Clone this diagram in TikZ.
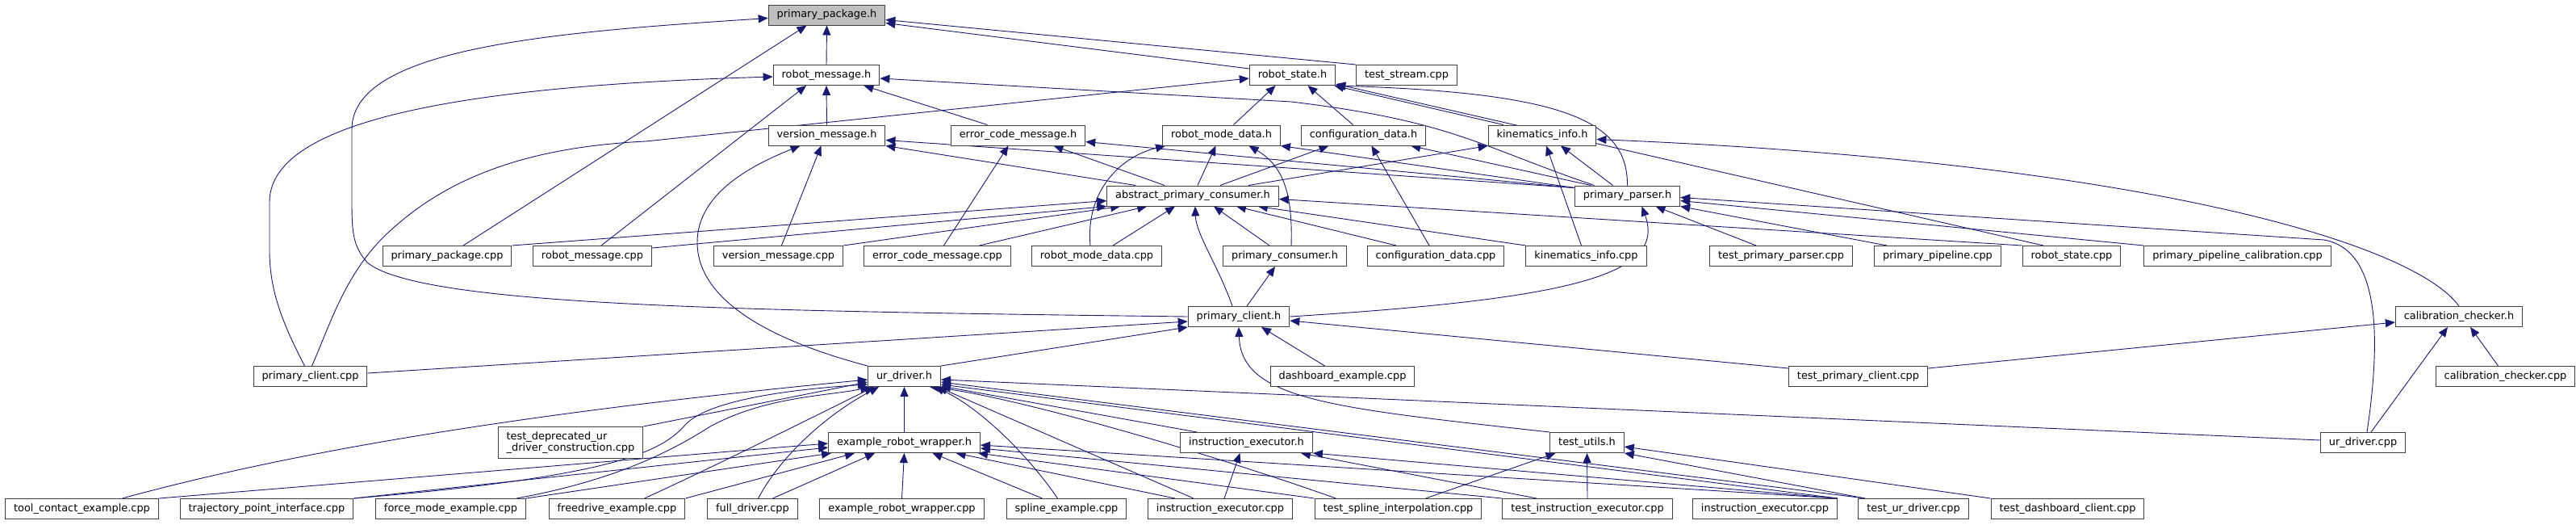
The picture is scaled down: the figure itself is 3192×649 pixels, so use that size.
\documentclass[tikz,border=0pt]{standalone}
\usepackage{fontspec}
\newfontfamily\dejavu{DejaVu Sans}
\usetikzlibrary{arrows.meta, backgrounds}
\definecolor{incblue}{RGB}{25,25,112}
\definecolor{boxline}{RGB}{64,64,64}
\tikzset{%
	filenode/.style={draw=boxline, line width=1pt, rectangle, fill=white, minimum height=25pt,%
		inner xsep=10.5pt, inner ysep=0pt, font=\dejavu\fontsize{12.9pt}{14.5pt}\selectfont},
	rootnode/.style={filenode, fill=black!25},
	connector/.style={draw=incblue, line width=0.9pt, -{Triangle[length=12pt,width=10pt]}}
}

\begin{document}
\begin{tikzpicture}[x=1pt, y=-1pt]
	\useasboundingbox (0,0) rectangle (3192,649);

	\node[rootnode] (pkgh)          at (1024.5,18.5) {primary\_package.h};

	\node[filenode] (msgh)          at (1024,93)     {robot\_message.h};
	\node[filenode] (stateh)        at (1601.5,93)   {robot\_state.h};
	\node[filenode] (streamcpp)     at (1743,93)     {test\_stream.cpp};

	\node[filenode] (versionh)      at (1024.5,167.5) {version\_message.h};
	\node[filenode] (errorh)        at (1261.5,167.5) {error\_code\_message.h};
	\node[filenode] (modeh)         at (1513.5,167.5) {robot\_mode\_data.h};
	\node[filenode] (configh)       at (1689.5,167.5) {configuration\_data.h};
	\node[filenode] (kinh)          at (1911,167.5)   {kinematics\_info.h};

	\node[filenode] (abstracth)     at (1478,242.5)   {abstract\_primary\_consumer.h};
	\node[filenode] (parserh)       at (2016.5,242.5) {primary\_parser.h};

	\node[filenode] (pkgcpp)        at (554,317)    {primary\_package.cpp};
	\node[filenode] (msgcpp)        at (734,317)    {robot\_message.cpp};
	\node[filenode] (versioncpp)    at (964.5,317)  {version\_message.cpp};
	\node[filenode] (errorcpp)      at (1161.5,317) {error\_code\_message.cpp};
	\node[filenode] (modecpp)       at (1359,317)   {robot\_mode\_data.cpp};
	\node[filenode] (consumerh)     at (1592,317)   {primary\_consumer.h};
	\node[filenode] (configcpp)     at (1779,317)   {configuration\_data.cpp};
	\node[filenode] (kincpp)        at (1965.5,317) {kinematics\_info.cpp};
	\node[filenode] (testparsercpp) at (2207,317)   {test\_primary\_parser.cpp};
	\node[filenode] (pipelinecpp)   at (2401,317)   {primary\_pipeline.cpp};
	\node[filenode] (statecpp)      at (2567,317)   {robot\_state.cpp};
	\node[filenode] (calibpipecpp)  at (2772.5,317) {primary\_pipeline\_calibration.cpp};

	\node[filenode] (clienth)       at (1535,392)   {primary\_client.h};
	\node[filenode] (calibh)        at (3047,392)   {calibration\_checker.h};

	\node[filenode] (clientcpp)     at (384.5,466)  {primary\_client.cpp};
	\node[filenode] (urdriverh)     at (1120.5,466) {ur\_driver.h};
	\node[filenode] (dashcpp)       at (1663.5,466) {dashboard\_example.cpp};
	\node[filenode] (testclientcpp) at (2302.5,466) {test\_primary\_client.cpp};
	\node[filenode] (calibcpp)      at (3104.5,466) {calibration\_checker.cpp};

	\node[filenode, align=left, minimum height=39pt] (deprecatedcpp) at (707,548)
		{test\_deprecated\_ur\\\_driver\_construction.cpp};
	\node[filenode] (wrapperh)      at (1120.5,548) {example\_robot\_wrapper.h};
	\node[filenode] (instrh)        at (1544.5,548) {instruction\_executor.h};
	\node[filenode] (testutilsh)    at (1966.5,548) {test\_utils.h};
	\node[filenode] (urdrivercpp)   at (2928,548)   {ur\_driver.cpp};

	\node[filenode] (toolcpp)       at (101.5,630)  {tool\_contact\_example.cpp};
	\node[filenode] (trajcpp)       at (330.5,630)  {trajectory\_point\_interface.cpp};
	\node[filenode] (forcecpp)      at (558.5,630)  {force\_mode\_example.cpp};
	\node[filenode] (freecpp)       at (764.5,630)  {freedrive\_example.cpp};
	\node[filenode] (fullcpp)       at (932.5,630)  {full\_driver.cpp};
	\node[filenode] (wrappercpp)    at (1117.5,630) {example\_robot\_wrapper.cpp};
	\node[filenode] (splinecpp)     at (1321.5,630) {spline\_example.cpp};
	\node[filenode] (instrcpp)      at (1512,630)   {instruction\_executor.cpp};
	\node[filenode] (testsplinecpp) at (1732.5,630) {test\_spline\_interpolation.cpp};
	\node[filenode] (testinstrcpp)  at (1967,630)   {test\_instruction\_executor.cpp};
	\node[filenode] (instrbcpp)     at (2187,630)   {instruction\_executor.cpp};
	\node[filenode] (testurcpp)     at (2371,630)   {test\_ur\_driver.cpp};
	\node[filenode] (testdashcpp)   at (2562,630)   {test\_dashboard\_client.cpp};

	\begin{scope}[on background layer]
	\draw[connector] (msgh.north) -- (pkgh.south);
	\draw[connector] ([yshift=-5pt]stateh.north west) -- ([yshift=3pt]pkgh.south east);
	\draw[connector] (streamcpp.north west) -- ([yshift=-6pt]pkgh.east);
	\draw[connector] ([xshift=20pt]pkgcpp.north) -- ([xshift=-25pt]pkgh.south);
	\draw[connector] (clienth.west) .. controls (900,385) and (520,378) .. (455,325)
		.. controls (438,305) and (436,290) .. (436,250) -- (436,160)
		.. controls (436,60) and (680,40) .. ([yshift=-4pt]pkgh.west);

	\draw[connector] (versionh.north) -- (msgh.south);
	\draw[connector] ([xshift=-38pt]errorh.north) -- ([xshift=-20pt]msgh.south east);
	\draw[connector] ([xshift=11pt]msgcpp.north) -- ([xshift=-25pt]msgh.south);
	\draw[connector] ([xshift=-7pt]clientcpp.north) .. controls (350,400) and (334,360) .. (334,310)
		-- (334,250) .. controls (334,140) and (620,105) .. ([yshift=-2pt]msgh.west);
	\draw[connector] ([xshift=-41pt]parserh.north) .. controls (1830,180) and (1800,150) .. (1600,126)
		-- ([yshift=-4pt]msgh.east);

	\draw[connector] ([xshift=2pt]clientcpp.north) .. controls (410,400) and (430,330) .. (490,280)
		.. controls (580,200) and (700,180) .. (800,175) -- ([yshift=-4pt]stateh.west);
	\draw[connector] ([xshift=15pt]modeh.north) -- ([xshift=-21pt]stateh.south);
	\draw[connector] ([xshift=-13pt]configh.north) -- ([xshift=19pt]stateh.south);
	\draw[connector] ([xshift=-48pt]kinh.north) -- ([xshift=-2pt]stateh.south east);
	\draw[connector] (parserh.north) .. controls (2017,150) and (1940,115) .. (stateh.south east);
	\draw[connector] ([xshift=-35pt]statecpp.north) -- ([yshift=2pt]stateh.south east);

	\draw[connector] ([xshift=4pt]versioncpp.north) -- ([xshift=-7pt]versionh.south);
	\draw[connector] ([xshift=-71pt]abstracth.north) -- (versionh.south east);
	\draw[connector] ([yshift=-3pt]parserh.north west) -- ([yshift=-6pt]versionh.east);
	\draw[connector] (urdriverh.north west) .. controls (950,420) and (864,370) .. (864,300)
		.. controls (864,240) and (930,205) .. ([xshift=-33pt]versionh.south);

	\draw[connector] ([xshift=8pt]errorcpp.north) -- ([xshift=-12pt]errorh.south);
	\draw[connector] ([xshift=-35pt]abstracth.north) -- ([xshift=44pt]errorh.south);
	\draw[connector] ([yshift=-3pt]parserh.north west) -- ([yshift=-8pt]errorh.east);

	\draw[connector] ([xshift=6pt]abstracth.north) -- ([xshift=-7pt]modeh.south);
	\draw[connector] ([xshift=-8pt]modecpp.north) .. controls (1345,240) and (1385,195) .. ([xshift=4pt]modeh.south west);
	\draw[connector] ([xshift=8pt]consumerh.north) .. controls (1602,240) and (1590,205) .. ([xshift=34pt]modeh.south);
	\draw[connector] ([yshift=-3pt]parserh.north west) -- (modeh.south east);

	\draw[connector] ([xshift=34pt]abstracth.north) -- ([xshift=-43pt]configh.south);
	\draw[connector] ([xshift=-8pt]configcpp.north) -- ([xshift=10pt]configh.south);
	\draw[connector] ([xshift=-45pt]parserh.north) -- ([xshift=-19pt]configh.south east);

	\draw[connector] ([xshift=69pt]abstracth.north) -- (kinh.south west);
	\draw[connector] ([xshift=-6pt]kincpp.north) -- ([xshift=5pt]kinh.south);
	\draw[connector] ([xshift=-18pt]parserh.north) -- ([xshift=23pt]kinh.south);
	\draw[connector] (calibh.north) .. controls (2990,300) and (2650,200) .. ([yshift=-5pt]kinh.east);

	\draw[connector] (pkgcpp.north east) -- ([yshift=-6pt]abstracth.west);
	\draw[connector] ([yshift=-3pt]msgcpp.north east) -- (abstracth.south west);
	\draw[connector] (versioncpp.north east) -- ([xshift=17pt]abstracth.south west);
	\draw[connector] ([xshift=52pt]errorcpp.north) -- ([xshift=50pt]abstracth.south west);
	\draw[connector] ([xshift=20pt]modecpp.north) -- ([xshift=-22pt]abstracth.south);
	\draw[connector] ([xshift=-19pt]consumerh.north) -- ([xshift=26pt]abstracth.south);
	\draw[connector] ([xshift=-8pt]clienth.north) .. controls (1510,330) and (1482,290) .. ([xshift=3pt]abstracth.south);
	\draw[connector] ([xshift=-49pt]configcpp.north) -- ([xshift=54pt]abstracth.south);
	\draw[connector] (kincpp.north west) -- ([xshift=-26pt]abstracth.south east);
	\draw[connector] (statecpp.north west) -- ([yshift=-4pt]abstracth.east);

	\draw[connector] ([xshift=-31pt]testparsercpp.north) -- ([xshift=35pt]parserh.south);
	\draw[connector] ([xshift=-63pt]pipelinecpp.north) -- (parserh.south east);
	\draw[connector] (calibpipecpp.north west) -- ([yshift=-6pt]parserh.east);
	\draw[connector] ([xshift=5pt]urdrivercpp.north) .. controls (2950,420) and (2950,310) .. (2880,297)
		-- ([yshift=-2pt]parserh.east);
	\draw[connector] (clienth.east) .. controls (1950,370) and (2065,340) .. ([xshift=18pt]parserh.south);

	\draw[connector] ([xshift=10pt]clienth.north) -- ([xshift=-12pt]consumerh.south);

	\draw[connector] ([yshift=4pt]clientcpp.east) -- ([yshift=-6pt]clienth.west);
	\draw[connector] (urdriverh.north east) -- (clienth.south west);
	\draw[connector] ([xshift=-22pt]dashcpp.north) -- ([xshift=28pt]clienth.south);
	\draw[connector] ([yshift=-3pt]testclientcpp.north west) -- ([yshift=-5pt]clienth.east);
	\draw[connector] (testutilsh.north west) .. controls (1650,505) and (1538,495) .. (clienth.south);

	\draw[connector] ([yshift=-3pt]testclientcpp.north east) -- ([yshift=-7pt]calibh.west);
	\draw[connector] ([xshift=10pt]urdrivercpp.north) -- ([xshift=-14pt]calibh.south);
	\draw[connector] ([xshift=-9pt]calibcpp.north) -- ([xshift=14pt]calibh.south);

	\draw[connector] ([xshift=50pt]toolcpp.north) .. controls (360,560) and (640,512) .. ([yshift=-4pt]urdriverh.west);
	\draw[connector] (deprecatedcpp.north east) -- ([yshift=-7pt]urdriverh.west);
	\draw[connector] (trajcpp.north east) .. controls (760,590) and (820,560) .. (850,525)
		.. controls (880,495) and (980,482) .. ([yshift=-10pt]urdriverh.west);
	\draw[connector] ([xshift=-12pt]forcecpp.north east) .. controls (760,595) and (830,560) .. (880,528)
		.. controls (950,490) and (1030,490) .. ([xshift=3pt]urdriverh.south west);
	\draw[connector] ([xshift=34pt]freecpp.north) .. controls (880,580) and (1000,520) .. ([xshift=8pt]urdriverh.south west);
	\draw[connector] ([xshift=7pt]fullcpp.north) .. controls (970,560) and (1030,510) .. ([xshift=14pt]urdriverh.south west);

	\draw[connector] (toolcpp.north east) -- ([yshift=-1pt]wrapperh.west);
	\draw[connector] (trajcpp.north east) -- ([yshift=-6pt]wrapperh.west);
	\draw[connector] (forcecpp.north east) -- ([xshift=4pt]wrapperh.south west);
	\draw[connector] (freecpp.north east) -- ([xshift=33pt]wrapperh.south west);
	\draw[connector] ([xshift=25pt]fullcpp.north) -- ([xshift=58pt]wrapperh.south west);
	\draw[connector] (wrappercpp.north) -- (wrapperh.south);
	\draw[connector] (wrapperh.north) -- (urdriverh.south);

	\draw[connector] ([xshift=-30pt]splinecpp.north) -- ([xshift=35pt]wrapperh.south);
	\draw[connector] ([xshift=-11pt]splinecpp.north) .. controls (1275,565) and (1215,505) .. ([xshift=-8pt]urdriverh.south east);
	\draw[connector] ([xshift=-56pt]instrcpp.north) -- ([xshift=64pt]wrapperh.south);
	\draw[connector] ([xshift=-33pt]instrcpp.north) -- ([xshift=-4pt]urdriverh.south east);
	\draw[connector] ([xshift=5pt]instrcpp.north) -- ([xshift=-8pt]instrh.south);
	\draw[connector] ([xshift=21pt]instrh.north west) -- ([yshift=-12pt]urdriverh.east);

	\draw[connector] (testsplinecpp.north west) -- ([xshift=-3pt]wrapperh.south east);
	\draw[connector] ([xshift=-77pt]testsplinecpp.north) .. controls (1480,555) and (1250,490) .. ([xshift=-14pt]urdriverh.south east);
	\draw[connector] ([xshift=34pt]testsplinecpp.north) -- ([xshift=-39pt]testutilsh.south);
	\draw[connector] (testinstrcpp.north west) -- ([yshift=-7pt]wrapperh.east);
	\draw[connector] ([xshift=-63pt]testinstrcpp.north) -- ([xshift=-15pt]instrh.south east);
	\draw[connector] (testinstrcpp.north) -- (testutilsh.south);
	\draw[connector] (instrbcpp.north east) -- ([yshift=-3pt]wrapperh.east);
	\draw[connector] (instrbcpp.north east) -- (instrh.south east);
	\draw[connector] (instrbcpp.north east) -- ([yshift=-10pt]urdriverh.east);
	\draw[connector] ([xshift=-60pt]testurcpp.north) -- ([yshift=-7pt]urdriverh.east);
	\draw[connector] ([xshift=-60pt]testurcpp.north) -- (testutilsh.south east);
	\draw[connector] (testdashcpp.north west) -- ([yshift=-5pt]testutilsh.east);
	\draw[connector] ([yshift=3pt]urdrivercpp.west) -- ([yshift=-4pt]urdriverh.east);
	\end{scope}
\end{tikzpicture}
\end{document}
